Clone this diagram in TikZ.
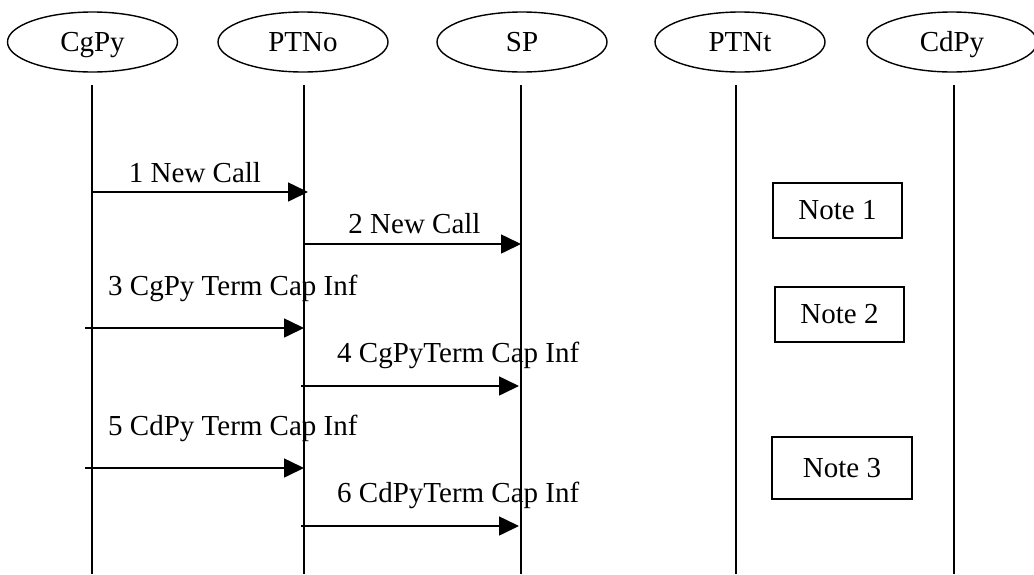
\documentclass[tikz,border=0pt]{standalone}
\usepackage{fontspec}
\setmainfont{Liberation Serif}
\usetikzlibrary{shapes.geometric,arrows.meta}
\begin{document}
\begin{tikzpicture}[x=1pt,y=-1pt,
  every node/.style={font=\fontsize{29}{34}\selectfont},
  actor/.style={draw,line width=1.4pt,ellipse,minimum width=170pt,minimum height=60pt,inner sep=0pt,text height=19pt,text depth=0pt},
  lifeline/.style={line width=1.6pt},
  msg/.style={line width=1.6pt,-{Triangle[length=20pt,width=19pt]}},
  notebox/.style={draw,line width=1.4pt,inner sep=0pt},
  lbl/.style={inner sep=0pt,anchor=west}]
\useasboundingbox (0,0) rectangle (1034,574);
% actors
\node[actor] (cg) at (92.5,42) {CgPy};
\node[actor] (pto) at (303,42) {PTNo};
\node[actor] (sp) at (522,42) {SP};
\node[actor] (ptt) at (740,42) {PTNt};
\node[actor] (cd) at (952,42) {CdPy};
% lifelines
\foreach \n/\x in {1/92,2/304,3/521,4/736,5/954}{
  \coordinate (t\n) at (\x,85);
  \coordinate (b\n) at (\x,574);
  \draw[lifeline] (t\n) -- (b\n);
}
% message end points
\coordinate (m1a) at (92,192);  \coordinate (m1b) at (308,192);
\coordinate (m2a) at (304,244); \coordinate (m2b) at (521,244);
\coordinate (m3a) at (85,328);  \coordinate (m3b) at (304,328);
\coordinate (m4a) at (301,386); \coordinate (m4b) at (519,386);
\coordinate (m5a) at (85,468);  \coordinate (m5b) at (304,468);
\coordinate (m6a) at (301,526); \coordinate (m6b) at (519,526);
\draw[msg] (m1a) -- (m1b);
\draw[msg] (m2a) -- (m2b);
\draw[msg] (m3a) -- (m3b);
\draw[msg] (m4a) -- (m4b);
\draw[msg] (m5a) -- (m5b);
\draw[msg] (m6a) -- (m6b);
% labels
\node[inner sep=0pt] (l1) at (195,173) {1 New Call};
\node[inner sep=0pt] (l2) at (414.5,224) {2 New Call};
\node[lbl] (l3) at (108,288) {3 CgPy Term Cap Inf};
\node[lbl] (l4) at (337,355) {4 CgPyTerm Cap Inf};
\node[lbl] (l5) at (108,428) {5 CdPy Term Cap Inf};
\node[lbl] (l6) at (337,495) {6 CdPyTerm Cap Inf};
% notes
\node[notebox,minimum width=129pt,minimum height=55pt] (n1) at (837.5,210.5) {Note 1};
\node[notebox,minimum width=129pt,minimum height=55pt] (n2) at (839.5,314.5) {Note 2};
\node[notebox,minimum width=140pt,minimum height=62pt] (n3) at (842,468) {Note 3};
\end{tikzpicture}
\end{document}
